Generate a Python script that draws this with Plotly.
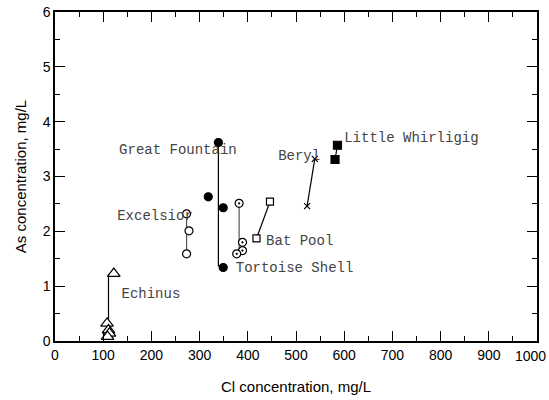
import plotly.graph_objects as go

# Data (Cl mg/L, As mg/L)
echinus_cl = [122, 108, 111, 113, 109]
echinus_as = [1.23, 0.32, 0.20, 0.14, 0.08]
echinus_line_cl = [111, 111]
echinus_line_as = [1.22, 0.26]

excelsior_cl = [273, 278, 273]
excelsior_as = [2.32, 2.01, 1.59]
excelsior_line_cl = [273, 273]
excelsior_line_as = [2.32, 1.59]

fountain_cl = [339, 318, 349, 349]
fountain_as = [3.62, 2.63, 2.43, 1.34]
fountain_line_cl = [339, 339]
fountain_line_as = [3.62, 1.36]

tortoise_cl = [382, 389, 389, 377]
tortoise_as = [2.51, 1.80, 1.65, 1.59]
tortoise_line_cl = [382, 382]
tortoise_line_as = [2.51, 1.62]

batpool_cl = [446, 418]
batpool_as = [2.54, 1.87]

beryl_cl = [539, 523]
beryl_as = [3.32, 2.46]

whirligig_cl = [586, 581]
whirligig_as = [3.57, 3.31]

label_text = ["Great Fountain", "Excelsior", "Echinus", "Tortoise Shell",
              "Bat Pool", "Beryl", "Little Whirligig"]
label_cl = [133, 129, 138, 375, 438, 463, 600]
label_as = [3.47, 2.27, 0.84, 1.33, 1.82, 3.37, 3.70]

x_ticks = [0, 100, 200, 300, 400, 500, 600, 700, 800, 900, 1000]
x_ticktext = ["0", "100", "200", "300", "400", "500", "600", "700", "800", "900", "1000"]
y_ticks = [0, 1, 2, 3, 4, 5, 6]

fig = go.Figure()

def line(xs, ys, color="black"):
    fig.add_trace(go.Scatter(x=xs, y=ys, mode="lines",
                             line=dict(color=color, width=1.2),
                             showlegend=False, hoverinfo="skip"))

def pts(xs, ys, symbol, size, fill="white", lw=1.2, color="black"):
    fig.add_trace(go.Scatter(x=xs, y=ys, mode="markers",
                             marker=dict(symbol=symbol, size=size, color=fill,
                                         line=dict(color=color, width=lw)),
                             showlegend=False))

line(echinus_line_cl, echinus_line_as)
line(excelsior_line_cl, excelsior_line_as, "#555555")
line(fountain_line_cl, fountain_line_as)
line(tortoise_line_cl, tortoise_line_as, "#555555")
line(batpool_cl, batpool_as)
line(beryl_cl, beryl_as)
line(whirligig_cl, whirligig_as)

pts(echinus_cl, echinus_as, "triangle-up", 11)
pts(excelsior_cl, excelsior_as, "circle", 8)
pts(fountain_cl, fountain_as, "circle", 8, fill="black")
pts(tortoise_cl, tortoise_as, "circle-dot", 8)
pts(batpool_cl, batpool_as, "square", 7)
pts(beryl_cl, beryl_as, "x-thin", 6, lw=1.2)
pts(whirligig_cl, whirligig_as, "square", 8, fill="black")

fig.add_trace(go.Scatter(x=label_cl, y=label_as, mode="text", text=label_text,
                         textposition="middle right",
                         textfont=dict(family="Liberation Mono", size=14, color="#444444"),
                         showlegend=False, hoverinfo="skip", cliponaxis=False))

tick_font = dict(family="Liberation Sans", size=14, color="black")

axis_common = dict(showline=True, linecolor="black", linewidth=1.5, mirror="ticks",
                   ticks="inside", ticklen=10, tickwidth=1, tickcolor="black",
                   showgrid=False, zeroline=False, automargin=False,
                   ticklabeloverflow="allow", tickfont=tick_font,
                   minor=dict(ticks="inside", ticklen=5, tickwidth=1, tickcolor="black"))

# last x tick label drawn as an annotation so it stays inside the page
fig.update_xaxes(range=[0, 1000], tickvals=x_ticks,
                 ticktext=x_ticktext[:-1] + [""],
                 minor_dtick=50,
                 title=dict(text="Cl concentration, mg/L",
                            font=dict(family="Liberation Sans", size=15, color="black"),
                            standoff=20),
                 **axis_common)
fig.add_annotation(x=x_ticks[-1], xref="x", y=0, yref="paper", text=x_ticktext[-1],
                   showarrow=False, xanchor="right", yanchor="top",
                   xshift=11, yshift=-5, font=tick_font)

fig.update_yaxes(range=[0, 6], tickvals=y_ticks, ticktext=[str(v) for v in y_ticks],
                 minor_dtick=0.5,
                 title=dict(text="As concentration, mg/L",
                            font=dict(family="Liberation Sans", size=15, color="black"),
                            standoff=12),
                 **axis_common)

fig.update_layout(width=549, height=400,
                  margin=dict(l=55, r=12, t=12, b=59, autoexpand=False),
                  plot_bgcolor="white", paper_bgcolor="white")

fig.write_html("out.html", config={"displayModeBar": False},
               post_script="document.body.style.margin='0';document.body.style.overflow='hidden';")
